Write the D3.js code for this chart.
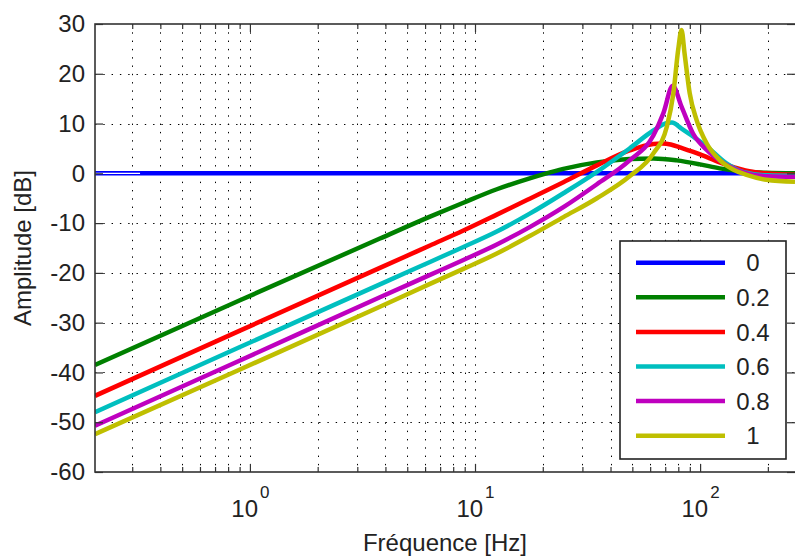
<!DOCTYPE html>
<html>
<head>
<meta charset="utf-8">
<script src="https://cdn.jsdelivr.net/npm/d3@7"></script>
<style>
  html, body { margin: 0; padding: 0; background: #fff; }
  svg { display: block; }
  text { font-family: "Liberation Sans", Arial, Helvetica, sans-serif; fill: #222; }
</style>
</head>
<body>
<svg id="chart" width="795" height="559"></svg>
<script>
// Amplitude response (dB) versus frequency (Hz), one series per parameter value.
const seriesLabels = ["0", "0.2", "0.4", "0.6", "0.8", "1"];

const amp0 = [[0.205, 0], [264, 0]];
const amp02 = [[0.205, -38.5], [0.903, -25.5], [3.78, -13.1], [6.31, -8.7], [8.88, -5.9], [12.5, -3.2],
  [17.5, -1.0], [20.4, -0.1], [24.7, 0.9], [34.8, 2.2], [48.6, 2.9], [62, 3.0], [78.6, 2.6],
  [100, 1.8], [122, 1.0], [161, 0.3], [197, 0.1], [264, 0.0]];
const amp04 = [[0.205, -44.7], [0.903, -31.6], [3.78, -19.0], [6.31, -14.5], [8.88, -11.5], [12.5, -8.3],
  [17.5, -5.1], [24.7, -1.8], [34.8, 1.6], [48.6, 4.6], [62, 5.9], [68, 6.0], [74, 5.8],
  [81.3, 5.2], [100, 3.8], [122, 2.2], [150, 0.9], [184, 0.1], [264, -0.3]];
const amp06 = [[0.205, -48.0], [0.903, -34.9], [3.78, -22.3], [6.31, -17.8], [8.88, -14.8], [12.5, -11.7],
  [17.5, -8.1], [24.7, -4.0], [34.8, 0.3], [48.6, 5.0], [62, 8.6], [71.2, 10.1], [74.9, 10.2],
  [82.7, 9.0], [93, 7.4], [107, 5.4], [131, 2.0], [155, 0.3], [200, -0.4], [264, -0.5]];
const amp08 = [[0.205, -50.7], [0.903, -37.6], [3.78, -24.9], [6.31, -20.4], [8.88, -17.4], [12.5, -14.3],
  [17.5, -10.8], [24.7, -6.8], [34.8, -2.2], [48.6, 2.6], [62, 7.6], [68.7, 12.1], [75.6, 17.6],
  [82.7, 13.4], [93, 8.0], [107, 4.7], [131, 1.7], [161, 0.0], [200, -0.6], [264, -0.7]];
const amp1 = [[0.205, -52.4], [0.903, -39.4], [3.78, -26.8], [6.31, -22.2], [8.88, -19.2], [12.5, -16.1],
  [17.5, -12.6], [24.7, -8.8], [34.8, -5.0], [48.6, -0.6], [62, 4.0], [71.2, 9.4], [76.1, 16.1],
  [79.9, 24.8], [82.7, 28.8], [85.3, 24.1], [89.9, 16.1], [96.5, 10.7], [107, 6.0], [122, 2.7],
  [141, 0.7], [161, -0.3], [197, -1.3], [264, -1.7]];

const seriesData = [amp0, amp02, amp04, amp06, amp08, amp1];

// Axis settings
const freqDomain = [0.205, 264];
const ampDomain = [-60, 30];
const ampTicks = [-60, -50, -40, -30, -20, -10, 0, 10, 20, 30];
const freqMajorTicks = [1, 10, 100];
const freqMinorTicks = [0.3, 0.4, 0.5, 0.6, 0.7, 0.8, 0.9, 2, 3, 4, 5, 6, 7, 8, 9,
  20, 30, 40, 50, 60, 70, 80, 90, 200];
const xTitle = "Fréquence [Hz]";
const yTitle = "Amplitude [dB]";

// Styling
const colors = ["#0000ff", "#008000", "#ff0000", "#00bfbf", "#bf00bf", "#bfbf00"];
const plot = { left: 95, top: 24, right: 795, bottom: 472 };

const svg = d3.select("#chart");
svg.append("rect").attr("width", 795).attr("height", 559).attr("fill", "#fff");

const x = d3.scaleLog().domain(freqDomain).range([plot.left, plot.right]);
const y = d3.scaleLinear().domain(ampDomain).range([plot.bottom, plot.top]);

// Dotted grid
const grid = svg.append("g").attr("stroke", "#000").attr("stroke-width", 1)
  .attr("stroke-dasharray", "1.4 6.9");
grid.selectAll("line.v").data(freqMajorTicks.concat(freqMinorTicks)).join("line")
  .attr("x1", d => Math.round(x(d)) + 0.5).attr("x2", d => Math.round(x(d)) + 0.5)
  .attr("y1", plot.top).attr("y2", plot.bottom);
grid.selectAll("line.h").data(ampTicks.filter(d => d > ampDomain[0] && d < ampDomain[1])).join("line")
  .attr("y1", d => Math.round(y(d)) + 0.5).attr("y2", d => Math.round(y(d)) + 0.5)
  .attr("x1", plot.left).attr("x2", plot.right);

// Curves
svg.append("clipPath").attr("id", "clip").append("rect")
  .attr("x", plot.left).attr("y", plot.top)
  .attr("width", plot.right - plot.left).attr("height", plot.bottom - plot.top);

const line = d3.line().x(d => x(d[0])).y(d => y(d[1])).curve(d3.curveMonotoneX);
const curves = svg.append("g").attr("clip-path", "url(#clip)");
curves.selectAll("path").data(seriesData).join("path")
  .attr("d", line).attr("fill", "none")
  .attr("stroke", (d, i) => colors[i]).attr("stroke-width", 4.5)
  .attr("stroke-linejoin", "round");
// thin light core on the start of the flat trace
curves.append("path").datum([[freqDomain[0], 0], [0.325, 0]])
  .attr("d", d3.line().x(d => x(d[0])).y(d => y(d[1])))
  .attr("stroke", "#fff").attr("stroke-width", 1.3).attr("fill", "none");

// Axes (inward ticks on all four sides)
function styleAxis(g) {
  g.select(".domain").remove();
  g.selectAll(".tick line").attr("stroke", "#333").attr("stroke-width", 1.2);
  g.selectAll("text").style("font-size", "24px").attr("fill", "#222")
    .style("font-family", "'Liberation Sans', Arial, sans-serif");
}
const fmtPow = d => Math.round(Math.log10(d));

const xBottom = svg.append("g").attr("transform", `translate(0,${plot.bottom})`)
  .call(d3.axisBottom(x).tickValues(freqMajorTicks).tickSizeInner(-8).tickSizeOuter(0).tickFormat(() => ""));
styleAxis(xBottom);
xBottom.selectAll(".tick text").each(function (d) {
  const t = d3.select(this).attr("y", 45).attr("dy", null).attr("text-anchor", "middle");
  t.append("tspan").text("10");
  t.append("tspan").attr("dy", -19).attr("dx", 2).style("font-size", "17px").text(fmtPow(d));
});
svg.append("g").attr("transform", `translate(0,${plot.bottom})`)
  .call(d3.axisBottom(x).tickValues(freqMinorTicks).tickSizeInner(-5).tickSizeOuter(0).tickFormat(() => ""))
  .call(styleAxis);
svg.append("g").attr("transform", `translate(0,${plot.top})`)
  .call(d3.axisTop(x).tickValues(freqMajorTicks).tickSizeInner(-8).tickSizeOuter(0).tickFormat(() => ""))
  .call(styleAxis);
svg.append("g").attr("transform", `translate(0,${plot.top})`)
  .call(d3.axisTop(x).tickValues(freqMinorTicks).tickSizeInner(-5).tickSizeOuter(0).tickFormat(() => ""))
  .call(styleAxis);

svg.append("g").attr("transform", `translate(${plot.left},0)`)
  .call(d3.axisLeft(y).tickValues(ampTicks).tickSizeInner(-8).tickSizeOuter(0).tickPadding(10)
    .tickFormat(d => String(d)))
  .call(styleAxis);
svg.append("g").attr("transform", `translate(${plot.right},0)`)
  .call(d3.axisRight(y).tickValues(ampTicks).tickSizeInner(-8).tickSizeOuter(0).tickFormat(() => ""))
  .call(styleAxis);

// Frame (left, top, bottom)
svg.append("rect")
  .attr("x", plot.left).attr("y", plot.top)
  .attr("width", plot.right - plot.left + 4).attr("height", plot.bottom - plot.top)
  .attr("fill", "none").attr("stroke", "#333").attr("stroke-width", 1.6);

// Axis titles
svg.append("text").attr("x", (plot.left + plot.right) / 2).attr("y", 551)
  .attr("text-anchor", "middle").style("font-size", "24px").text(xTitle);
svg.append("text").attr("transform", `translate(31,${(plot.top + plot.bottom) / 2}) rotate(-90)`)
  .attr("text-anchor", "middle").style("font-size", "24px").text(yTitle);

// Legend
const legend = svg.append("g").attr("transform", "translate(620,241)");
legend.append("rect").attr("width", 166).attr("height", 218)
  .attr("fill", "#fff").attr("stroke", "#222").attr("stroke-width", 1.6);
const items = legend.selectAll("g.item").data(seriesLabels).join("g")
  .attr("transform", (d, i) => `translate(0,${21.7 + i * 34.6})`);
items.append("line").attr("x1", 16).attr("x2", 105).attr("y1", 0).attr("y2", 0)
  .attr("stroke", (d, i) => colors[i]).attr("stroke-width", 4.5);
items.append("text").attr("x", 133).attr("dy", "0.36em").attr("text-anchor", "middle")
  .style("font-size", "24px").text(d => d);
</script>
</body>
</html>
